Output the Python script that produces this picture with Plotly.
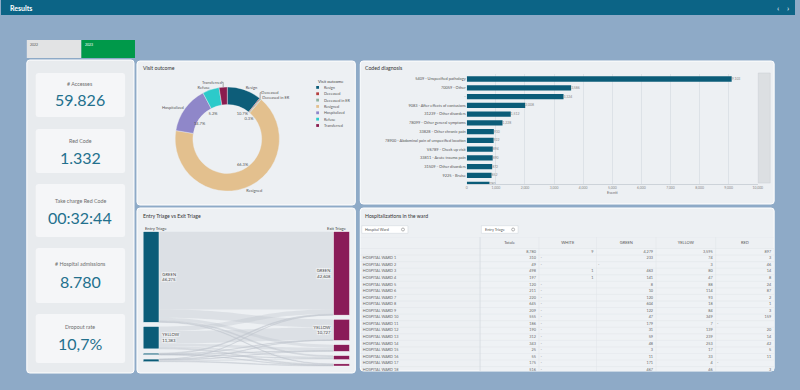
import plotly.graph_objects as go

W, H = 800, 390
def px(x): return x / W
def py(y): return 1 - y / H

# ---------------- DATA ----------------
years = ["2022", "2023"]
kpi_titles = ["# Accesses", "Red Code", "Take charge Red Code", "# Hospital admissions", "Dropout rate"]
kpi_values = ["59.826", "1.332", "00:32:44", "8.780", "10,7%"]

outcome_labels = ["Resign", "Deceased", "Deceased in ER", "Resigned", "Hospitalized", "Refuse", "Transferred"]
outcome_values = [6401, 179, 180, 39665, 8780, 3111, 1510]
outcome_colors = ["#0d5d79", "#b5403f", "#8fb3a0", "#e3c08e", "#8f87c9", "#2ccaca", "#8a1c4e"]
outcome_show_pct = [True, False, True, True, True, True, False]

diag_labels = ["5409 - Unspecified pathology", "70059 - Other", "-",
               "9083 - After effects of contusions", "31239 - Other disorders",
               "78099 - Other general symptoms", "33828 - Other chronic pain",
               "78900 - Abdominal pain of unspecified location", "V6789 - Check up visit",
               "33811 - Acute trauma pain", "31509 - Other disorders", "9225 - Bruise",
               "8488 - Sprain"]
diag_counts = [9103, 3586, 3324, 2008, 1512, 1228, 930, 922, 894, 890, 872, 852, 780]

entry_nodes = ["GREEN", "YELLOW", "WHITE", "RED"]
exit_nodes = ["GREEN", "YELLOW", "ORANGE", "RED", "WHITE"]
triage_flows = [
    [39800, 4200, 1500, 500, 275],
    [2300, 6300, 1500, 800, 483],
    [400, 100, 200, 100, 36],
    [108, 127, 200, 600, 297],
]

table_columns = ["Totale", "WHITE", "GREEN", "YELLOW", "RED"]
ward_names = ["HOSPITAL WARD %d" % i for i in range(1, 19)]
ward_total = [310, 49, 498, 197, 120, 211, 220, 645, 209, 555, 186, 190, 312, 343, 25, 55, 175, 516]
ward_white = [None, None, 1, 1, None, None, None, None, None, None, None, None, None, None, None, None, None, None]
ward_green = [233, None, 463, 141, 8, 10, 120, 604, 122, 47, 179, 31, 59, 48, 3, 11, 171, 467]
ward_yellow = [74, 3, 80, 47, 88, 114, 93, 18, 84, 349, 7, 139, 239, 253, 17, 33, 4, 46]
ward_red = [3, 46, 14, 8, 24, 87, 2, 1, 3, 159, None, 20, 14, 42, 5, 11, None, 3]
totals_row = [8780, 9, 4279, 3595, 897]

# ---------------- STYLE ----------------
BG = "#8eaac7"
PANEL = "#edf0f3"
CARD = "#f5f6f8"
TEAL = "#0b5c78"
VALUE = "#23708d"
FONT = "Lato"

shapes = []
annotations = []

def rect(x0, y0, x1, y1, fill, line=None, lw=0, layer="below"):
    shapes.append(dict(type="rect", xref="paper", yref="paper",
                       x0=px(x0), x1=px(x1), y0=py(y1), y1=py(y0),
                       fillcolor=fill, line=dict(color=line or fill, width=lw), layer=layer))

def rrect(x0, y0, x1, y1, r, fill, line=None, lw=0, layer="below"):
    rx, ry = r / W, r / H
    X0, X1, Y0, Y1 = px(x0), px(x1), py(y1), py(y0)
    path = (f"M {X0+rx},{Y1} L {X1-rx},{Y1} Q {X1},{Y1} {X1},{Y1-ry} "
            f"L {X1},{Y0+ry} Q {X1},{Y0} {X1-rx},{Y0} L {X0+rx},{Y0} "
            f"Q {X0},{Y0} {X0},{Y0+ry} L {X0},{Y1-ry} Q {X0},{Y1} {X0+rx},{Y1} Z")
    shapes.append(dict(type="path", xref="paper", yref="paper", path=path,
                       fillcolor=fill, line=dict(color=line or fill, width=lw), layer=layer))

def ann(x, y, text, size=5, color="#444", xanchor="left", yanchor="middle", family=FONT):
    annotations.append(dict(x=px(x), y=py(y), xref="paper", yref="paper", text=text,
                            showarrow=False, xanchor=xanchor, yanchor=yanchor,
                            font=dict(size=size, color=color, family=family)))

# header
rect(0, 0, 800, 15, "#0c6486")
ann(7, 8, "<b>Results</b>", 7, "white")
ann(783, 7.5, "‹", 8, "white", "center")
ann(793, 7.5, "›", 8, "white", "center")

# year selector
rect(26, 40, 81, 58, "#e2e3e4")
rect(81, 40, 135, 58, "#00994a")
ann(27.5, 44.5, years[0], 3.5, "#555")
ann(82.5, 44.5, years[1], 3.5, "white")

# left KPI panel
rrect(26, 60, 134, 373, 3, "#e8ebee", "white", 1)
card_y = [(73, 117), (129, 173), (184, 237), (248, 303), (314, 363)]
title_y = [84, 141, 201, 264, 327]
value_y = [100, 157, 217, 281, 343]
for (y0, y1), ty, vy, t, v in zip(card_y, title_y, value_y, kpi_titles, kpi_values):
    rrect(35, y0, 125, y1, 2.5, CARD)
    ann(80, ty, t, 5.3, "#6e6e6e", "center")
    ann(80, vy, v, 16, VALUE, "center")

# panels
rrect(137, 61, 357, 205, 3, PANEL, "white", 1)
rrect(362, 61, 779, 204, 3, PANEL, "white", 1)
rrect(137, 208, 357, 373, 3, PANEL, "white", 1)
rrect(362, 208, 779, 371, 3, PANEL, "white", 1)
ann(141, 68, "Visit outcome", 5.2, "#333")
ann(364.5, 68, "Coded diagnosis", 5.2, "#333")
ann(141.5, 216, "Entry Triage vs Exit Triage", 5.2, "#333")
ann(364.5, 216, "Hospitalizations in the ward", 5.2, "#333")

fig = go.Figure()

# ---------------- DONUT ----------------
cx, cy, R = 228, 139, 52.5
fig.add_trace(go.Pie(
    labels=outcome_labels, values=outcome_values, sort=False, direction="clockwise",
    rotation=0, hole=0.66,
    marker=dict(colors=outcome_colors, line=dict(color=PANEL, width=0.4)),
    texttemplate="%{label}", textposition="outside",
    outsidetextfont=dict(size=4, color="#555", family=FONT),
    domain=dict(x=[px(cx - R), px(cx + R)], y=[py(cy + R), py(cy - R)]),
    showlegend=False, hoverinfo="label+percent",
))
r_in = 25
fig.add_trace(go.Pie(
    labels=outcome_labels, values=outcome_values, sort=False, direction="clockwise",
    rotation=0,
    marker=dict(colors=["rgba(0,0,0,0)"] * len(outcome_labels), line=dict(width=0)),
    texttemplate=["%{percent:.1%}" if s else "" for s in outcome_show_pct],
    textposition="outside",
    outsidetextfont=dict(size=4, color="#555", family=FONT),
    domain=dict(x=[px(cx - r_in), px(cx + r_in)], y=[py(cy + r_in), py(cy - r_in)]),
    showlegend=False, hoverinfo="skip",
))
# custom legend
ann(317.5, 81, "Visit outcome", 4.2, "#444")
for i, (lab, col) in enumerate(zip(outcome_labels, outcome_colors)):
    yy = 87.4 + i * 6.35
    rect(317.6, yy - 1.4, 320.4, yy + 1.4, col, layer="above")
    ann(323.5, yy, lab, 3.8, "#555")

# ---------------- BAR CHART ----------------
fig.add_trace(go.Bar(
    x=diag_counts, y=diag_labels, orientation="h",
    marker=dict(color=TEAL, line=dict(width=0)),
    texttemplate="%{x:,}", textposition="outside",
    textfont=dict(size=3.4, color="#888", family=FONT),
    xaxis="x", yaxis="y", hoverinfo="x+y",
))
rect(763, 73, 775, 183, "#dcdfe2", "#c8cdd2", 0.5)

# ---------------- SANKEY ----------------
n_in = len(entry_nodes)
src, tgt, val = [], [], []
for i, row in enumerate(triage_flows):
    for j, v in enumerate(row):
        src.append(i); tgt.append(n_in + j); val.append(v)
entry_tot = [sum(r) for r in triage_flows]
exit_tot = [sum(r[j] for r in triage_flows) for j in range(len(exit_nodes))]
grand = sum(entry_tot)
node_labels = [(f"{n}<br>{t:,}" if t > 0.1 * grand else "")
               for n, t in zip(entry_nodes + exit_nodes, entry_tot + exit_tot)]

SK_X0, SK_X1, SK_Y0, SK_Y1 = 143.3, 351, 231.7, 366
SK_W, SK_H = SK_X1 - SK_X0, SK_Y1 - SK_Y0
PAD, THICK = 4.3, 15.8
ky = min((SK_H - (len(c) - 1) * PAD) / sum(c) for c in (entry_tot, exit_tot))
def col_centers(tots):
    out, acc = [], 0.0
    for i, t in enumerate(tots):
        h = t * ky
        out.append((acc + h / 2) / SK_H)
        acc += h + PAD
    return out
node_x = [THICK / 2 / SK_W] * n_in + [1 - THICK / 2 / SK_W] * len(exit_nodes)
node_y = col_centers(entry_tot) + col_centers(exit_tot)

fig.add_trace(go.Sankey(
    arrangement="fixed",
    domain=dict(x=[px(SK_X0), px(SK_X1)], y=[py(SK_Y1), py(SK_Y0)]),
    node=dict(label=node_labels, pad=PAD, thickness=THICK, x=node_x, y=node_y,
              color=[TEAL] * n_in + ["#8a1c58"] * len(exit_nodes),
              line=dict(color="white", width=0.4)),
    link=dict(source=src, target=tgt, value=val, color="rgba(190,196,202,0.35)"),
    textfont=dict(size=4.2, color="#444", family=FONT),
    hoverinfo="none",
))
ann(143, 228, "Entry Triage", 4.2, "#444")
ann(351, 228, "Exit Triage", 4.2, "#444", "right")

# ---------------- TABLE (text marks on a hidden cartesian grid) ----------------
rect(363.5, 225.7, 410, 233.3, "white", "#cfd4da", 0.5)
ann(365, 229.5, "Hospital Ward", 3.8, "#555")
shapes.append(dict(type="circle", xref="paper", yref="paper", x0=px(403.5), x1=px(406.5),
                   y0=py(231), y1=py(228), line=dict(color="#666", width=0.5)))
rect(484, 225.7, 521, 233.3, "white", "#cfd4da", 0.5)
ann(485.5, 229.5, "Entry Triage", 3.8, "#555")
shapes.append(dict(type="circle", xref="paper", yref="paper", x0=px(514.5), x1=px(517.5),
                   y0=py(231), y1=py(228), line=dict(color="#666", width=0.5)))

T_X0, T_X1, T_Y0, T_Y1 = 362, 779, 237, 371
ROW_H, HEAD_H = 6.56, 11.5
col_w = [120.7, 59.3, 58, 60, 60, 59]
edges = [0]
for w_ in col_w:
    edges.append(edges[-1] + w_)
head_rows = HEAD_H / ROW_H
y_bottom = (T_Y1 - T_Y0) / ROW_H - head_rows

rows_labels = [""] + ward_names
cols_data = [[totals_row[k]] + col for k, col in
             enumerate([ward_total, ward_white, ward_green, ward_yellow, ward_red])]
n_rows = len(rows_labels)

shapes.append(dict(type="rect", xref="x2", yref="y2", x0=edges[1], x1=edges[-1],
                   y0=0, y1=y_bottom, fillcolor="#eff2f5", line=dict(width=0), layer="below"))
for r in range(n_rows + 1):
    shapes.append(dict(type="line", xref="x2", yref="y2", x0=0, x1=edges[-1], y0=r, y1=r,
                       line=dict(color="#e0e4e9", width=0.5), layer="above"))
for e in edges[2:-1]:
    shapes.append(dict(type="line", xref="x2", yref="y2", x0=e, x1=e, y0=-head_rows, y1=y_bottom,
                       line=dict(color="#e0e4e9", width=0.5), layer="above"))
shapes.append(dict(type="line", xref="x2", yref="y2", x0=edges[1], x1=edges[1],
                   y0=-head_rows - 2.3, y1=y_bottom, line=dict(color="#d0d6dc", width=0.7), layer="above"))
shapes.append(dict(type="line", xref="x2", yref="y2", x0=0, x1=edges[-1], y0=-head_rows, y1=-head_rows,
                   line=dict(color="#e0e4e9", width=0.5), layer="above"))

ry = [r + 0.5 for r in range(n_rows)]
fig.add_trace(go.Scatter(
    x=[(edges[k + 1] + edges[k + 2]) / 2 for k in range(len(table_columns))],
    y=[-head_rows / 2] * len(table_columns), text=table_columns,
    mode="text", textposition="middle center",
    textfont=dict(size=4, color="#555", family=FONT),
    xaxis="x2", yaxis="y2", hoverinfo="skip", cliponaxis=False,
))
fig.add_trace(go.Scatter(
    x=[2.5] * n_rows, y=ry, text=rows_labels, mode="text", textposition="middle right",
    textfont=dict(size=3.8, color="#666", family=FONT),
    xaxis="x2", yaxis="y2", hoverinfo="skip",
))
num_x, num_y, num_t, dash_x, dash_y = [], [], [], [], []
for k, col in enumerate(cols_data):
    for r, v in enumerate(col):
        if v is None:
            dash_x.append(edges[k + 1] + 1.5); dash_y.append(r + 0.5)
        else:
            num_x.append(edges[k + 2] - 3); num_y.append(r + 0.5); num_t.append(f"{v:,}")
fig.add_trace(go.Scatter(
    x=num_x, y=num_y, text=num_t, mode="text", textposition="middle left",
    textfont=dict(size=3.8, color="#666", family=FONT),
    xaxis="x2", yaxis="y2", hoverinfo="skip",
))
fig.add_trace(go.Scatter(
    x=dash_x, y=dash_y, text=["-"] * len(dash_x), mode="text", textposition="middle right",
    textfont=dict(size=3.8, color="#666", family=FONT),
    xaxis="x2", yaxis="y2", hoverinfo="skip",
))

fig.update_layout(
    width=W, height=H, margin=dict(l=0, r=0, t=0, b=0),
    paper_bgcolor=BG, plot_bgcolor="rgba(0,0,0,0)",
    font=dict(family=FONT), showlegend=False,
    shapes=shapes, annotations=annotations,
    xaxis=dict(domain=[px(469.3), px(762.5)], range=[0, 10000], dtick=1000, tickformat=",",
               showgrid=True, gridcolor="#dde2e7", gridwidth=0.5, zeroline=False,
               showline=True, linecolor="#cdd3d9", linewidth=0.5,
               tickfont=dict(size=3.4, color="#888"), ticks="",
               title=dict(text="Eventi", font=dict(size=3.8, color="#666"), standoff=2),
               fixedrange=True),
    yaxis=dict(domain=[py(184), py(74)], type="category", categoryarray=diag_labels,
               categoryorder="array", range=[11.97, -0.57], showgrid=False, zeroline=False,
               tickfont=dict(size=3.9, color="#555"), ticks="", fixedrange=True),
    xaxis2=dict(domain=[px(T_X0), px(T_X1)], range=[0, edges[-1]], visible=False,
                fixedrange=True, anchor="y2"),
    yaxis2=dict(domain=[py(T_Y1), py(T_Y0)], range=[y_bottom, -head_rows], visible=False,
                fixedrange=True, anchor="x2"),
    bargap=0.4,
)

fig.write_html("out.html")
